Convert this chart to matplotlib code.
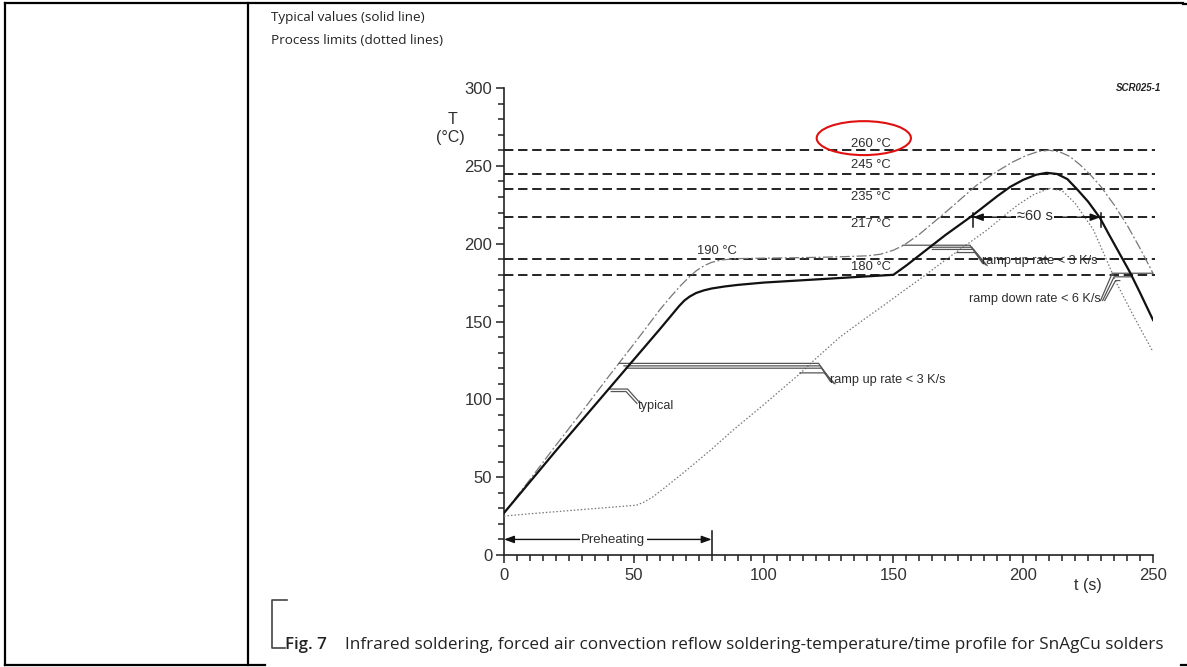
import matplotlib
matplotlib.use("Agg")
import matplotlib.pyplot as plt
from matplotlib.lines import Line2D
from matplotlib.patches import Ellipse
from matplotlib.ticker import MultipleLocator

# ---------------- data ----------------
# typical profile (solid line)
typ_t = [0, 10, 20, 30, 40, 50, 60, 63, 65.5, 67.5, 69.5, 71.5, 74, 77, 80, 85, 90, 100, 110,
         120, 130, 140, 150, 155, 160, 165, 170, 175, 180, 185, 190, 195, 200, 205, 209, 213,
         217, 221, 225, 229.6, 233, 236, 241, 245, 250]
typ_T = [27, 47, 67, 86.5, 106, 125.5, 145, 151, 156, 160, 163.5, 166, 168.3, 170, 171.2, 172.5,
         173.5, 175, 176, 177, 178, 179, 180, 186, 192.5, 199, 205.5, 211.5, 217.5, 224, 230.5,
         236.5, 241, 244.3, 245.5, 244.8, 241.5, 234.5, 227, 216.5, 206, 197, 182, 168.5, 151]

# upper process limit (dash-dot line)
up_t = [0, 10, 20, 30, 40, 50, 55, 60, 64, 68, 71, 74, 77, 80, 84, 90, 100, 110, 120, 130, 140,
        145, 150, 154, 160, 170, 182, 190, 196, 201, 206, 210, 214, 218, 222, 226, 230, 235, 240,
        245, 250]
up_T = [27, 48.5, 70.5, 92, 114, 135.5, 146.5, 157.5, 165.5, 173, 178, 182.5, 185.8, 188, 189.6,
        190.4, 190.7, 190.9, 191.2, 191.6, 192.2, 193.2, 195.8, 199, 206, 220, 237.5, 246.5,
        252.5, 256.5, 259.3, 260, 259, 256, 250.5, 244, 236.5, 225, 212, 197, 181]

# lower process limit (dotted line)
lo_t = [0, 10, 25, 40, 51, 54, 57.5, 64, 70.4, 80, 88.3, 100, 114, 120, 129.4, 140, 146, 152.5,
        160, 170, 180, 186, 192, 198, 204, 210, 215, 220, 227, 232, 236, 243, 250]
lo_T = [25, 26.5, 28.5, 30.5, 32, 34, 37.5, 46, 54.6, 68, 80.3, 96.5, 116.5, 126, 140, 153, 160,
        168, 177, 189.5, 201.5, 208.7, 217, 225, 231.5, 235.5, 234, 226, 209, 190, 174.5, 152, 130.5]

# reference temperature levels (dashed lines) and their labels
levels = [260, 245, 235, 217, 190, 180]
level_labels = ["260 °C", "245 °C", "235 °C", "217 °C", "190 °C", "180 °C"]
level_label_t = [141.3, 141.3, 141.3, 141.3, 82.2, 141.5]
level_label_T = [264.3, 250.3, 230.0, 212.8, 195.2, 185.0]

x_ticks = [0, 50, 100, 150, 200, 250]
y_ticks = [0, 50, 100, 150, 200, 250, 300]

# annotation leader lines (time, temperature)
typ_lead1_t = [40.8, 47.6, 51.8]
typ_lead1_T = [106.6, 106.6, 98.8]
typ_lead2_t = [41.3, 47.0, 51.2]
typ_lead2_T = [105.0, 105.0, 97.4]

rul1_t = [44.4, 121.2, 125.7]
rul1_T = [123.1, 123.1, 111.5]
rul2_t = [46.2, 121.8, 126.3]
rul2_T = [121.5, 121.5, 111.0]
rul3_t = [47.0, 122.4, 126.9]
rul3_T = [120.0, 120.0, 110.5]
rul4_t = [114.0, 123.3, 127.5]
rul4_T = [117.0, 117.0, 110.0]

ruu1_t = [153.7, 179.5, 184.3]
ruu1_T = [199.0, 199.0, 187.5]
ruu2_t = [164.0, 180.2, 184.9]
ruu2_T = [197.7, 197.7, 187.0]
ruu3_t = [165.0, 180.9, 185.5]
ruu3_T = [196.3, 196.3, 186.5]
ruu4_t = [174.5, 181.8, 186.1]
ruu4_T = [194.3, 194.3, 186.0]

rd1_t = [229.8, 234.3, 250.0]
rd1_T = [163.5, 181.0, 181.0]
rd2_t = [230.6, 235.0, 241.4]
rd2_T = [163.5, 178.7, 178.7]
rd3_t = [231.4, 235.6, 237.2]
rd3_T = [163.5, 176.3, 176.3]

W, H = 1187, 667

def fx(px):
    return px / W

def fy(py):
    return 1 - py / H

fig = plt.figure(figsize=(W / 100, H / 100), dpi=100)
fig.patch.set_facecolor("white")

ax = fig.add_axes([fx(504), fy(555), (1153 - 504) / W, (555 - 88) / H])
ax.set_xlim(0, 250)
ax.set_ylim(0, 300)
for s in ["top", "right"]:
    ax.spines[s].set_visible(False)
for s in ["left", "bottom"]:
    ax.spines[s].set_linewidth(1.2)
    ax.spines[s].set_color("#222222")

ax.set_xticks(x_ticks)
ax.set_yticks(y_ticks)
ax.xaxis.set_minor_locator(MultipleLocator(5))
ax.yaxis.set_minor_locator(MultipleLocator(10))
ax.tick_params(which="major", direction="out", length=5.5, width=1.1, color="#222222",
               labelsize=12, labelcolor="#333333", pad=3)
ax.tick_params(which="minor", direction="out", length=4.5, width=1.1, color="#222222")
ax.tick_params(axis="x", which="major", pad=4)
for lab in ax.get_xticklabels() + ax.get_yticklabels():
    lab.set_family("Liberation Sans")

FONT = "Liberation Sans"
TXT = "#2e2e2e"

# dashed temperature levels
ax.hlines(levels, 0, 250.6, colors="#111111", linewidth=1.3,
          linestyles=[(0, (5.2, 2.6))], clip_on=False, zorder=2)

# curves
ax.plot(up_t, up_T, color="#777777", linewidth=0.9, linestyle=(0, (8, 2, 1.5, 2)), zorder=3)
ax.plot(lo_t, lo_T, color="#777777", linewidth=0.9, linestyle=(0, (1.2, 1.6)), zorder=3)
ax.plot(typ_t, typ_T, color="#111111", linewidth=1.6, zorder=4, solid_joinstyle="round")

# leaders
lead_kw = dict(color="#555555", linewidth=0.9, zorder=3, solid_joinstyle="miter")
for tt, TT in [(typ_lead1_t, typ_lead1_T), (typ_lead2_t, typ_lead2_T),
               (rul1_t, rul1_T), (rul2_t, rul2_T), (rul3_t, rul3_T), (rul4_t, rul4_T),
               (ruu1_t, ruu1_T), (ruu2_t, ruu2_T), (ruu3_t, ruu3_T), (ruu4_t, ruu4_T),
               (rd1_t, rd1_T), (rd2_t, rd2_T), (rd3_t, rd3_T)]:
    ax.plot(tt, TT, clip_on=False, **lead_kw)

# level labels
for lab, tt, TT in zip(level_labels, level_label_t, level_label_T):
    ax.text(tt, TT, lab, ha="center", va="center", fontsize=9.4, family=FONT, color=TXT, zorder=5)

# annotation texts
ax.text(51.6, 95.4, "typical", ha="left", va="center", fontsize=9.2, family=FONT, color=TXT)
ax.text(125.6, 112.6, "ramp up rate < 3 K/s", ha="left", va="center", fontsize=9.2,
        family=FONT, color=TXT)
ax.text(184.0, 188.6, "ramp up rate < 3 K/s", ha="left", va="center", fontsize=9.2,
        family=FONT, color=TXT)
ax.text(229.9, 164.6, "ramp down rate < 6 K/s", ha="right", va="center", fontsize=9.2,
        family=FONT, color=TXT)

# preheating arrow
ax.annotate("", xy=(0, 10), xytext=(80, 10),
            arrowprops=dict(arrowstyle="<|-|>,head_length=0.6,head_width=0.22",
                            color="#111111", linewidth=1.0, shrinkA=0, shrinkB=0))
ax.plot([80, 80], [0, 15.5], color="#111111", linewidth=1.1)
ax.text(42, 9.8, "Preheating", ha="center", va="center", fontsize=9.5, family=FONT, color=TXT,
        bbox=dict(facecolor="white", edgecolor="none", pad=1.0), zorder=6)

# ~60 s arrow
ax.annotate("", xy=(180.6, 217), xytext=(229.8, 217),
            arrowprops=dict(arrowstyle="<|-|>,head_length=0.6,head_width=0.22",
                            color="#111111", linewidth=1.0, shrinkA=0, shrinkB=0), zorder=6)
ax.plot([180.6, 180.6], [211, 219.5], color="#111111", linewidth=1.1, zorder=6)
ax.plot([229.8, 229.8], [211, 219.5], color="#111111", linewidth=1.1, zorder=6)
ax.text(204.5, 217.5, "≈60 s", ha="center", va="center", fontsize=10.5, family=FONT, color=TXT,
        bbox=dict(facecolor="white", edgecolor="none", pad=0.8), zorder=7)

# axis labels
ax.text(-20.0, 280.0, "T", ha="center", va="center", fontsize=11.5, family=FONT, color=TXT,
        clip_on=False)
ax.text(-20.5, 268.0, "(°C)", ha="center", va="center", fontsize=11.5, family=FONT, color=TXT,
        clip_on=False)
ax.text(225.0, -19.6, "t (s)", ha="center", va="center", fontsize=11.5, family=FONT, color=TXT,
        clip_on=False)

ax.text(253.3, 300, "SCR025-1", ha="right", va="center", fontsize=7, family=FONT,
        style="italic", weight="bold", color="#222222", clip_on=False)

# red ellipse
ax.add_patch(Ellipse((138.6, 267.8), 36.3, 21.8, fill=False, edgecolor="#e01010",
                     linewidth=1.5, zorder=8, clip_on=False))

# ---------------- page frame ----------------
def fline(xs, ys, **kw):
    fig.add_artist(Line2D([fx(x) for x in xs], [fy(y) for y in ys], **kw))

frame_kw = dict(color="black", linewidth=1.6, solid_capstyle="projecting")
fline([5, 1183], [3, 3], **frame_kw)
fline([1183, 1187], [4, 4], **frame_kw)
fline([5, 5], [3, 665], **frame_kw)
fline([248, 248], [3, 665], **frame_kw)
fline([5, 265], [665, 665], **frame_kw)
fline([1181, 1187], [665, 665], **frame_kw)

# caption bracket
br_kw = dict(color="#444444", linewidth=1.2)
fline([287, 272, 272, 285], [600, 600, 648, 648], **br_kw)

CAP = "Open Sans"
fig.text(fx(271), fy(18), "Typical values (solid line)", ha="left", va="center",
         fontsize=9.7, family=CAP, color="#222222")
fig.text(fx(271), fy(40), "Process limits (dotted lines)", ha="left", va="center",
         fontsize=9.7, family=CAP, color="#222222")
fig.text(fx(285), fy(645), "Fig. 7", ha="left", va="center", fontsize=12.2,
         family=CAP, weight="semibold", color="#222222")
fig.text(fx(345), fy(645),
         "Infrared soldering, forced air convection reflow soldering-temperature/time profile for SnAgCu solders",
         ha="left", va="center", fontsize=12.3, family=CAP, color="#222222")

fig.savefig("out.png", dpi=100, facecolor="white")
